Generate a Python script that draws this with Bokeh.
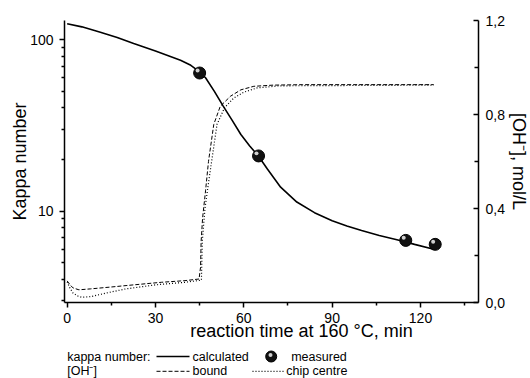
from bokeh.plotting import figure
from bokeh.models import (Range1d, LinearScale, LinearAxis, FixedTicker, ColumnDataSource,
                          CustomJSTransform, Dodge)
from bokeh.transform import transform
from bokeh.layouts import column
from bokeh.core.properties import value
from bokeh.embed import file_html
from bokeh.resources import INLINE

# ---------------- data ----------------
t_calc = [0, 5, 11, 17, 22.6, 30, 38.5, 42, 45, 47, 50, 53, 56, 59, 62, 65, 68, 72.5,
          78, 84, 90, 95, 100, 106, 112, 118, 124.5]
kappa_calc = [124, 119, 111, 103, 95, 86, 76, 71, 65, 60, 50, 41, 34, 28, 24, 20.9, 17.6, 13.8,
              11.3, 9.8, 8.8, 8.2, 7.7, 7.2, 6.8, 6.4, 6.0]

t_meas = [45, 65, 115, 125]
kappa_meas = [64, 21, 6.75, 6.4]

t_bound = [0, 1, 2, 4, 8, 15, 20, 32, 40, 44.8, 45.3, 45.5, 46, 47, 48, 49.8, 52, 55.5,
           59, 63.4, 70, 80, 124.5]
oh_bound = [0.092, 0.075, 0.062, 0.054, 0.058, 0.066, 0.072, 0.086, 0.093, 0.10, 0.15, 0.26,
            0.36, 0.475, 0.60, 0.758, 0.835, 0.878, 0.905, 0.920, 0.925, 0.927, 0.927]

t_chip = [0, 1, 2, 3.5, 5, 8, 15, 20, 30, 40, 45.6, 45.9, 46.8, 48.1, 50.9, 53.5, 56.6,
          60, 64.5, 72, 124.5]
oh_chip = [0.088, 0.06, 0.04, 0.028, 0.022, 0.025, 0.045, 0.058, 0.075, 0.086, 0.095, 0.26,
           0.40, 0.517, 0.758, 0.83, 0.870, 0.895, 0.913, 0.922, 0.925]

x_ticks = [0, 30, 60, 90, 120]
x_minor = [15, 45, 75, 105, 135]
kappa_ticks = [10, 100]
kappa_labels = ["10", "100"]
oh_ticks = [0.0, 0.4, 0.8, 1.2]
oh_minor = [0.2, 0.6, 1.0]
oh_labels = ["0,0", "0,4", "0,8", "1,2"]

FONT = "Liberation Sans"

# ---------------- main plot ----------------
FL, FR, FT, FB = 64, 478, 20, 302   # frame edges in page pixels
W, MAIN_H = 530, 344

p = figure(frame_width=FR - FL, frame_height=FB - FT, output_backend="svg",
           toolbar_location=None, y_axis_type="log",
           x_range=Range1d(-0.9, 139.7), y_range=Range1d(2.93, 129.6),
           min_border_left=FL, min_border_right=W - FR, min_border_top=FT,
           min_border_bottom=MAIN_H - FB, outline_line_color=None)
p.xgrid.visible = False
p.ygrid.visible = False
p.extra_y_ranges = {"oh": Range1d(0, 1.2)}
p.extra_y_scales = {"oh": LinearScale()}

def style_axis(ax):
    ax.axis_line_width = 1.5
    ax.axis_line_color = "black"
    ax.major_tick_line_color = "black"
    ax.minor_tick_line_color = "black"
    ax.major_tick_line_width = 1.5
    ax.minor_tick_line_width = 1.5
    ax.major_label_text_font = FONT
    ax.major_label_text_font_size = "14px"
    ax.major_label_text_color = "black"
    ax.axis_label_text_font = FONT
    ax.axis_label_text_font_size = "18px"
    ax.axis_label_text_font_style = "normal"
    ax.axis_label_text_color = "black"

xa = p.xaxis[0]
style_axis(xa)
xa.ticker = FixedTicker(ticks=x_ticks, minor_ticks=x_minor)
xa.major_tick_out = 5
xa.major_tick_in = 0
xa.minor_tick_out = 3
xa.minor_tick_in = 0
xa.major_label_standoff = 5

kappa_minor = [m * d for d in (1, 10) for m in range(2, 10)]
ya = p.yaxis[0]
style_axis(ya)
ya.ticker = FixedTicker(ticks=kappa_ticks, minor_ticks=kappa_minor)
ya.major_label_overrides = {v: s for v, s in zip(kappa_ticks, kappa_labels)}
ya.major_tick_out = 5
ya.major_tick_in = 0
ya.minor_tick_out = 3
ya.minor_tick_in = 0
ya.major_label_standoff = 6
ya.axis_label = "Kappa number"
ya.axis_label_standoff = -3

ra = LinearAxis(y_range_name="oh")
style_axis(ra)
ra.ticker = FixedTicker(ticks=oh_ticks, minor_ticks=oh_minor)
ra.major_label_overrides = {v: s for v, s in zip(oh_ticks, oh_labels)}
ra.major_tick_out = 0
ra.major_tick_in = 5
ra.minor_tick_out = 0
ra.minor_tick_in = 4
ra.major_label_standoff = 7
ra.axis_label = "[OH⁻], mol/L"
ra.axis_label_standoff = 1
ra.axis_label_text_line_height = 1.0
p.add_layout(ra, "right")

p.line(t_bound, oh_bound, y_range_name="oh", line_color="black", line_width=1,
       line_dash="4 2")
p.line(t_chip, oh_chip, y_range_name="oh", line_color="black", line_width=1.2,
       line_dash="1 2")
p.line(t_calc, kappa_calc, line_color="black", line_width=1.6)

src = ColumnDataSource(dict(t=t_meas, k=kappa_meas))
p.scatter("t", "k", source=src, size=12, fill_color="#111111", line_color="black")
up = CustomJSTransform(v_func="return xs.map(v => v * 1.035)")
p.scatter(transform("t", Dodge(value=-0.7)), transform("k", up), source=src, size=4,
          fill_color="#d0d0d0", line_color=None)

# ---------------- transparent strip below (coordinates = page pixels) ----------------
# holds the x-axis title (off-centre, as in the reference) and the legend
LT, LB = 318, 378
lg = figure(frame_width=FR - FL, frame_height=LB - LT, output_backend="svg",
            toolbar_location=None, x_range=Range1d(FL, FR), y_range=Range1d(LB, LT),
            min_border_left=FL, min_border_right=W - FR, min_border_top=0,
            min_border_bottom=0, x_axis_type=None, y_axis_type=None,
            outline_line_color=None, background_fill_alpha=0, border_fill_alpha=0)
lg.margin = (LT - MAIN_H, 0, 0, 0)
lg.xgrid.visible = False
lg.ygrid.visible = False

lg.text(x=[301], y=[330], text=["reaction time at 160 °C, min"],
        text_font=value(FONT), text_font_size="18px", text_color="black",
        text_align="center", text_baseline="middle")

r1, r2 = 356, 370.8
txt = dict(text_font=value(FONT), text_font_size="12.5px", text_color="black",
           text_align="left", text_baseline="middle")
lg.text(x=[66.7, 192, 290.7], y=[r1, r1, r1],
        text=["kappa number:", "calculated", "measured"], **txt)
lg.text(x=[66.7, 192, 285.7], y=[r2, r2, r2],
        text=["[OH⁻]", "bound", "chip centre"], **txt)
lg.line([156, 189], [r1, r1], line_color="black", line_width=1.6)
lg.line([156, 189], [r2, r2], line_color="black", line_width=1, line_dash="4 2")
lg.line([252, 283], [r2, r2], line_color="black", line_width=1.2, line_dash="1 2")
lg.scatter([270.7], [r1], size=11, fill_color="#111111", line_color="black")
lg.scatter([270.0], [r1 - 1.5], size=4, fill_color="#d0d0d0", line_color=None)

layout = column(p, lg, spacing=0)
open("out.html", "w").write(file_html(layout, INLINE))
